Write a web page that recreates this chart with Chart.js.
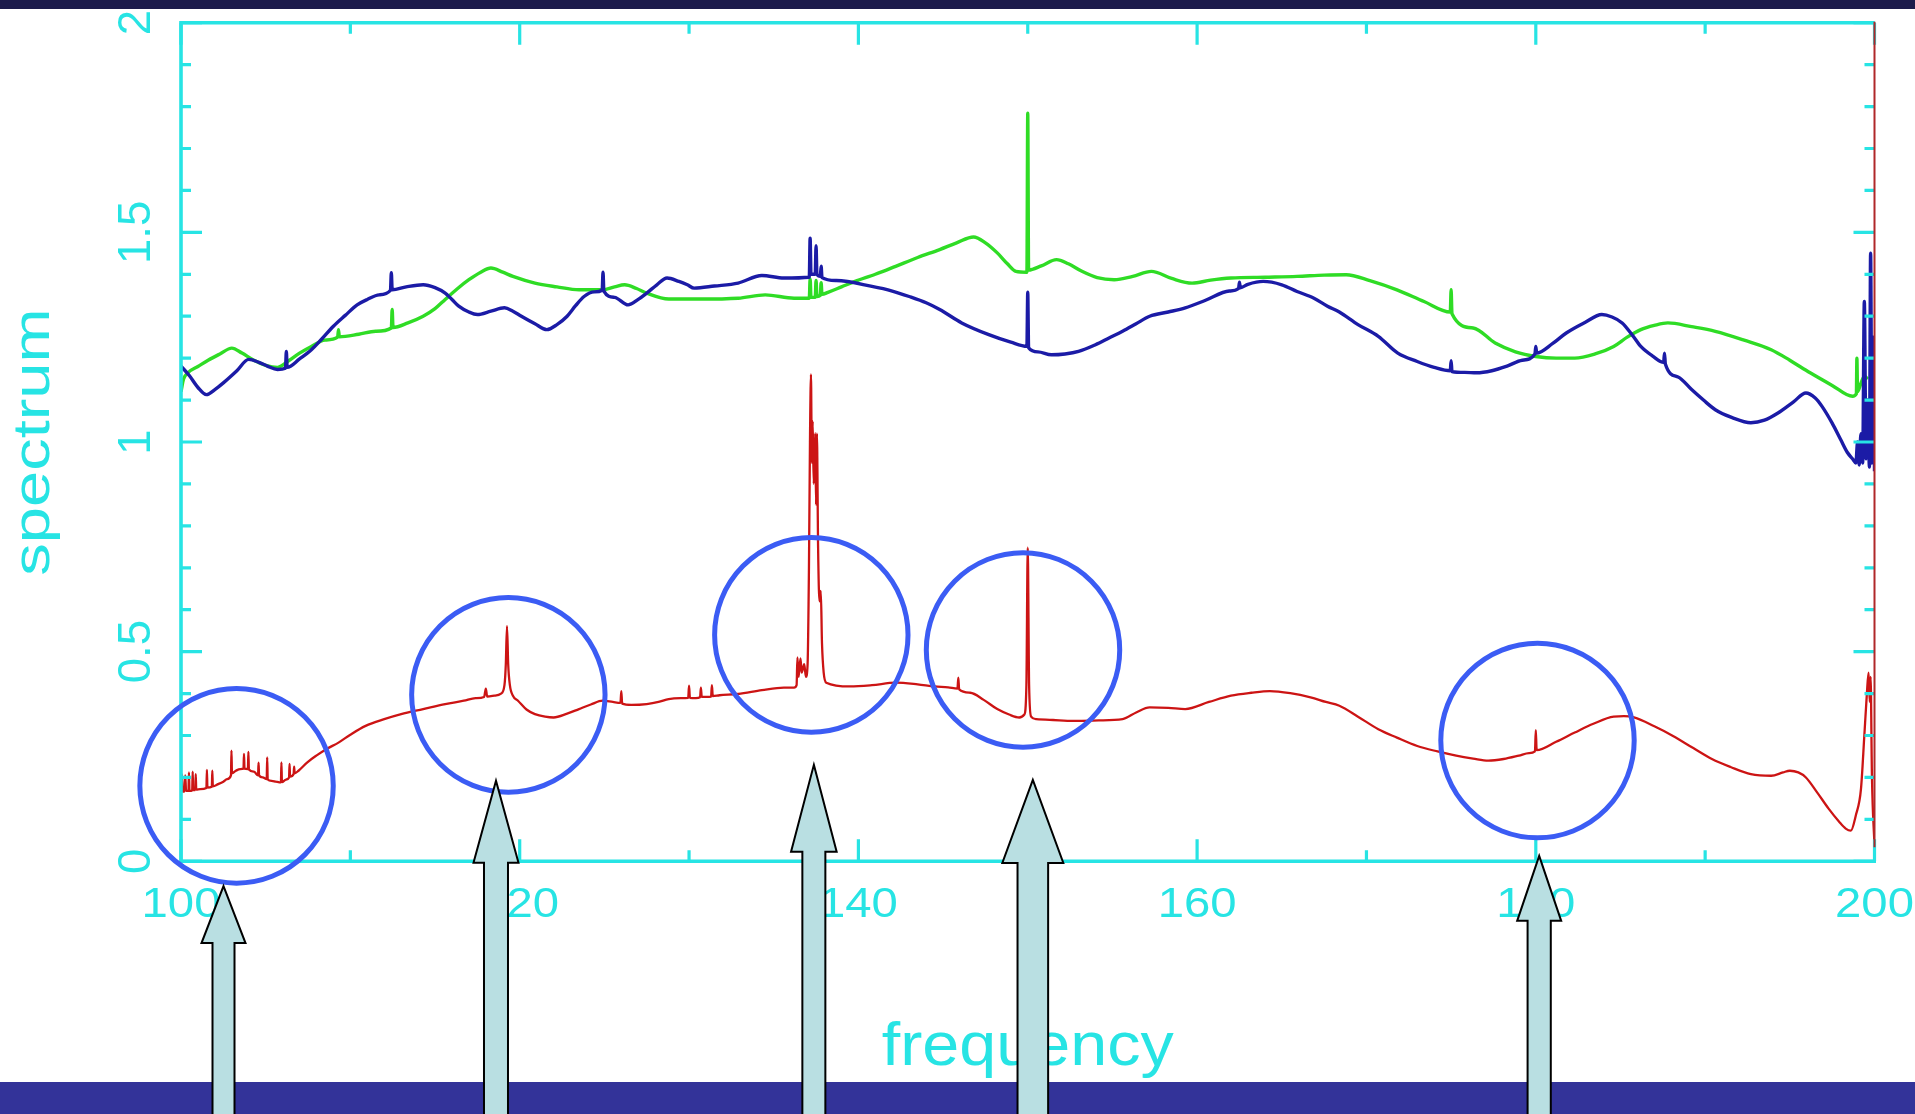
<!DOCTYPE html>
<html>
<head>
<meta charset="utf-8">
<title>spectrum vs frequency</title>
<script src="https://cdn.jsdelivr.net/npm/chart.js@4.4.1/dist/chart.umd.min.js"></script>
<style>
  html, body { margin: 0; padding: 0; background: #ffffff; overflow: hidden; }
  #wrap { position: absolute; left: 0; top: 0; width: 1915px; height: 1114px; }
</style>
</head>
<body>
<div id="wrap"><canvas id="spec" width="1915" height="1114"></canvas></div>
<script>
// ---- axis ticks ----
const xMajorTicks = [100, 120, 140, 160, 180, 200];
const xTickLabels = ['100', '120', '140', '160', '180', '200'];
const xMinorTicks = [110, 130, 150, 170, 190];
const yMajorTicks = [0, 0.5, 1, 1.5, 2];
const yTickLabels = ['0', '0.5', '1', '1.5', '2'];
const yMinorTicks = [0.1, 0.2, 0.3, 0.4, 0.6, 0.7, 0.8, 0.9, 1.1, 1.2, 1.3, 1.4, 1.6, 1.7, 1.8, 1.9];

// ---- spectra: [frequency, spectrum] ----
const greenSpectrum = [
  [100.0,1.12],[100.15,1.15],[100.4,1.165],[101.0,1.18],[101.6,1.195],[102.3,1.21],[103.0,1.224],[103.6,1.212],
  [104.3,1.195],[105.0,1.183],[105.7,1.178],[106.4,1.195],[107.0,1.212],[107.7,1.228],[108.5,1.243],[109.25,1.25],
  [109.3,1.268],[109.35,1.251],[110.5,1.257],[111.5,1.264],[112.42,1.272],[112.47,1.316],[112.52,1.273],[113.4,1.284],
  [114.3,1.30],[115.0,1.318],[115.6,1.34],[116.3,1.365],[117.0,1.387],[117.7,1.405],[118.3,1.415],[119.0,1.405],
  [119.6,1.395],[120.9,1.379],[122.2,1.37],[123.5,1.363],[124.9,1.363],[125.6,1.37],[126.2,1.375],[126.9,1.366],
  [127.5,1.355],[128.8,1.341],[130.6,1.341],[132.9,1.343],[134.5,1.351],[136.2,1.343],[137.1,1.343],[137.15,1.389],
  [137.2,1.345],[137.45,1.345],[137.5,1.385],[137.55,1.347],[137.75,1.35],[137.8,1.38],[137.85,1.352],[138.2,1.357],
  [139.0,1.37],[139.8,1.383],[141.0,1.40],[142.2,1.419],[143.5,1.44],[144.8,1.459],[145.8,1.475],[146.8,1.489],
  [147.5,1.475],[148.2,1.451],[148.8,1.425],[149.3,1.407],[149.95,1.405],[150.0,1.784],[150.05,1.41],[150.8,1.42],
  [151.7,1.435],[152.4,1.425],[153.2,1.407],[154.1,1.392],[155.1,1.387],[156.2,1.395],[157.3,1.407],[158.5,1.39],
  [159.7,1.379],[160.8,1.386],[162.0,1.391],[164.0,1.393],[165.9,1.395],[167.5,1.398],[168.8,1.399],[170.2,1.385],
  [171.8,1.363],[173.4,1.335],[174.95,1.31],[175.0,1.363],[175.05,1.306],[176.3,1.272],[177.6,1.236],[178.8,1.215],
  [180.0,1.204],[181.2,1.2],[182.3,1.200],[183.5,1.21],[184.6,1.228],[185.4,1.25],[186.2,1.268],[187.0,1.278],
  [187.8,1.284],[189.2,1.275],[190.6,1.264],[192.3,1.243],[193.9,1.220],[195.0,1.195],[196.2,1.165],[197.5,1.135],
  [198.7,1.109],[198.93,1.115],[198.96,1.20],[199.0,1.12],[199.2,1.14],[199.4,1.157],[199.6,1.15]
];

const blueSpectrum = [
  [100.0,1.181],[100.5,1.158],[101.0,1.13],[101.5,1.113],[102.0,1.125],[102.5,1.141],[103.3,1.17],[104.0,1.197],
  [104.6,1.19],[105.1,1.181],[105.7,1.173],[106.17,1.176],[106.22,1.216],[106.27,1.178],[107.0,1.198],[107.7,1.22],
  [108.3,1.245],[109.0,1.276],[109.7,1.302],[110.4,1.327],[111.0,1.34],[111.7,1.351],[112.37,1.362],[112.42,1.404],
  [112.47,1.363],[113.3,1.37],[114.3,1.375],[115.0,1.368],[115.6,1.355],[116.0,1.34],[116.4,1.324],[117.0,1.31],
  [117.5,1.304],[118.3,1.312],[119.1,1.320],[119.6,1.312],[120.1,1.300],[120.9,1.282],[121.6,1.268],[122.2,1.28],
  [122.8,1.30],[123.3,1.325],[123.8,1.347],[124.4,1.358],[124.87,1.362],[124.92,1.405],[124.97,1.36],[125.6,1.345],
  [126.4,1.327],[127.0,1.34],[127.5,1.355],[128.1,1.375],[128.7,1.391],[129.4,1.383],[129.9,1.375],[130.3,1.367],
  [131.5,1.372],[132.9,1.379],[134.3,1.397],[135.6,1.391],[137.1,1.393],[137.15,1.486],[137.2,1.40],[137.45,1.40],
  [137.5,1.468],[137.55,1.40],[137.75,1.395],[137.8,1.419],[137.85,1.392],[138.7,1.385],[140.8,1.371],[142.0,1.36],
  [143.0,1.347],[144.0,1.332],[144.8,1.316],[146.1,1.284],[147.7,1.256],[149.0,1.238],[149.95,1.228],[150.0,1.357],
  [150.05,1.225],[150.6,1.215],[151.4,1.208],[152.2,1.21],[153.0,1.216],[154.0,1.232],[154.8,1.248],[155.6,1.264],
  [156.4,1.282],[157.2,1.30],[158.3,1.31],[159.3,1.320],[160.5,1.338],[161.9,1.36],[162.45,1.366],[162.5,1.381],
  [162.55,1.368],[163.0,1.376],[163.9,1.383],[165.0,1.375],[165.9,1.359],[166.9,1.343],[167.7,1.324],[168.4,1.31],
  [169.5,1.28],[170.7,1.252],[171.85,1.212],[173.0,1.192],[174.0,1.178],[174.95,1.17],[175.0,1.194],[175.05,1.168],
  [175.8,1.166],[176.5,1.165],[177.4,1.17],[178.3,1.181],[179.2,1.195],[179.95,1.21],[180.0,1.228],[180.05,1.212],
  [181.0,1.235],[181.8,1.260],[182.9,1.285],[183.9,1.304],[184.5,1.298],[185.1,1.284],[185.7,1.255],[186.2,1.228],
  [186.9,1.205],[187.55,1.19],[187.6,1.212],[187.65,1.186],[188.4,1.155],[189.2,1.125],[189.9,1.1],[190.6,1.077],
  [191.6,1.058],[192.7,1.046],[193.5,1.052],[194.3,1.069],[195.2,1.095],[195.95,1.117],[196.5,1.105],[196.9,1.085],
  [197.5,1.045],[198.0,1.006],[198.4,0.975],[198.7,0.96],[198.9,0.95],[199.0,1.0],[199.1,0.945],[199.2,1.02],
  [199.3,0.95],[199.4,1.335],[199.5,0.96],[199.6,1.10],[199.7,0.94],[199.77,1.45],[199.85,0.95],[199.95,1.25],
  [200.0,0.93]
];

const redSpectrum = [
  [100.0,0.164],[100.05,0.208],[100.1,0.166],[100.2,0.167],[100.25,0.205],[100.3,0.168],[100.44,0.168],[100.47,0.212],
  [100.5,0.168],[100.66,0.169],[100.69,0.214],[100.72,0.17],[100.84,0.17],[100.87,0.208],[100.9,0.171],[101.13,0.172],
  [101.5,0.175],[101.53,0.218],[101.56,0.176],[101.82,0.178],[101.85,0.216],[101.88,0.179],[102.19,0.184],[102.5,0.19],
  [102.72,0.196],[102.95,0.205],[102.98,0.264],[103.01,0.21],[103.24,0.216],[103.5,0.22],[103.69,0.221],[103.72,0.256],
  [103.75,0.221],[103.95,0.22],[103.98,0.261],[104.01,0.219],[104.3,0.214],[104.55,0.205],[104.58,0.235],[104.61,0.205],
  [104.83,0.200],[105.06,0.196],[105.09,0.248],[105.12,0.195],[105.35,0.192],[105.6,0.19],[105.9,0.188],[105.93,0.236],
  [105.96,0.189],[106.2,0.195],[106.38,0.2],[106.41,0.232],[106.44,0.202],[106.65,0.208],[106.68,0.226],[106.71,0.21],
  [106.94,0.216],[107.46,0.236],[107.99,0.252],[108.6,0.268],[109.3,0.283],[110.0,0.302],[110.9,0.323],[112.0,0.339],
  [113.0,0.351],[114.3,0.363],[115.6,0.375],[116.7,0.383],[117.4,0.389],[117.9,0.392],[118.0,0.412],[118.08,0.393],
  [118.5,0.395],[118.9,0.4],[119.1,0.42],[119.18,0.47],[119.25,0.561],[119.32,0.47],[119.42,0.42],[119.6,0.395],
  [119.9,0.383],[120.4,0.362],[120.9,0.351],[121.5,0.345],[122.0,0.343],[122.8,0.352],[123.5,0.363],[124.2,0.374],
  [124.9,0.383],[125.5,0.38],[125.95,0.378],[126.0,0.406],[126.05,0.376],[126.6,0.373],[127.5,0.375],[128.2,0.38],
  [128.8,0.387],[129.5,0.389],[129.95,0.39],[130.0,0.419],[130.05,0.39],[130.4,0.389],[130.65,0.391],[130.7,0.414],
  [130.75,0.392],[131.0,0.392],[131.3,0.393],[131.35,0.42],[131.4,0.394],[131.8,0.396],[132.9,0.399],[134.3,0.408],
  [135.6,0.414],[136.2,0.414],[136.35,0.42],[136.4,0.486],[136.47,0.44],[136.58,0.484],[136.65,0.45],[136.8,0.47],
  [136.9,0.44],[137.0,0.47],[137.08,0.7],[137.14,1.0],[137.2,1.161],[137.25,0.95],[137.3,1.05],[137.36,0.9],
  [137.45,1.021],[137.5,0.85],[137.55,1.02],[137.62,0.75],[137.7,0.62],[137.78,0.645],[137.85,0.52],[137.95,0.45],
  [138.1,0.426],[139.5,0.417],[140.8,0.42],[142.2,0.426],[143.5,0.422],[144.5,0.417],[145.3,0.415],[145.85,0.412],
  [145.9,0.438],[145.95,0.41],[146.6,0.402],[147.4,0.385],[148.2,0.363],[148.9,0.35],[149.5,0.343],[149.8,0.35],
  [149.92,0.42],[150.0,0.748],[150.08,0.42],[150.2,0.345],[150.5,0.339],[151.5,0.337],[152.7,0.335],[154.2,0.336],
  [155.6,0.339],[156.4,0.355],[157.2,0.367],[158.3,0.366],[159.3,0.363],[160.7,0.38],[162.0,0.395],[163.2,0.402],
  [164.3,0.406],[165.5,0.401],[166.7,0.391],[167.6,0.38],[168.4,0.371],[169.5,0.345],[170.7,0.315],[171.8,0.295],
  [173.0,0.275],[174.2,0.262],[175.3,0.252],[176.3,0.245],[177.2,0.240],[178.1,0.244],[179.0,0.252],[179.6,0.258],
  [179.95,0.262],[180.0,0.313],[180.05,0.265],[181.2,0.285],[182.3,0.307],[183.4,0.328],[184.6,0.345],[185.2,0.346],
  [185.8,0.343],[187.0,0.322],[188.1,0.299],[189.3,0.27],[190.4,0.244],[191.5,0.225],[192.7,0.208],[193.9,0.204],
  [194.6,0.212],[195.0,0.216],[195.5,0.212],[195.95,0.200],[196.6,0.165],[197.3,0.125],[197.9,0.095],[198.3,0.078],
  [198.6,0.073],[198.9,0.11],[199.2,0.172],[199.4,0.3],[199.55,0.4],[199.65,0.45],[199.72,0.38],[199.77,0.44],
  [199.85,0.2],[200.0,0.037]
];

// ---- highlighted features: [frequency, spectrum] ----
const circledFeatures = [[103.28, 0.180], [119.33, 0.397], [137.22, 0.540], [149.72, 0.504], [180.10, 0.288]];
const arrowTips = [[102.51, -0.059], [118.6, 0.192], [137.37, 0.230], [150.3, 0.194], [180.2, 0.013]];

// ---- styles ----
const CYAN = '#27e4e4';
const FONT = '"Liberation Sans", Arial, Helvetica, sans-serif';
const arrowShapes = [
  { head: 57, headHalf: 22, shaftHalf: 11 },
  { head: 82, headHalf: 22.5, shaftHalf: 12 },
  { head: 87, headHalf: 22.8, shaftHalf: 11.5 },
  { head: 83, headHalf: 30.5, shaftHalf: 15.3 },
  { head: 65, headHalf: 22, shaftHalf: 11.6 }
];

const toPoints = arr => arr.map(([x, y]) => ({ x, y }));

function drawText(ctx, text, x, y, size, stretch, angle) {
  ctx.save();
  ctx.translate(x, y);
  if (angle) ctx.rotate(angle);
  ctx.scale(stretch, 1);
  ctx.font = size + 'px ' + FONT;
  ctx.textAlign = 'center';
  ctx.textBaseline = 'alphabetic';
  ctx.fillText(text, 0, 0);
  ctx.restore();
}

const slideBackground = {
  id: 'slideBackground',
  beforeDraw(chart) {
    const { ctx, width, height } = chart;
    ctx.save();
    ctx.fillStyle = '#ffffff';
    ctx.fillRect(0, 0, width, height);
    ctx.fillStyle = '#1c1b4b';
    ctx.fillRect(0, 0, width, 9);
    ctx.fillStyle = '#333399';
    ctx.fillRect(0, 1082, width, height - 1082);
    ctx.restore();
  }
};

const plotFrame = {
  id: 'plotFrame',
  afterDatasetsDraw(chart) {
    const { ctx, chartArea: a, scales: { x, y } } = chart;
    ctx.save();
    ctx.strokeStyle = CYAN;
    ctx.lineWidth = 3.6;
    ctx.lineCap = 'butt';
    ctx.beginPath();
    ctx.moveTo(a.right, a.top); ctx.lineTo(a.left, a.top);
    ctx.lineTo(a.left, a.bottom); ctx.lineTo(a.right + 1.5, a.bottom);
    ctx.stroke();

    // inward ticks on all four sides
    ctx.lineWidth = 3.2;
    ctx.beginPath();
    const xt = (v, len) => {
      const p = x.getPixelForValue(v);
      ctx.moveTo(p, a.top); ctx.lineTo(p, a.top + len);
      ctx.moveTo(p, a.bottom); ctx.lineTo(p, a.bottom - len);
    };
    const yt = (v, len) => {
      const p = y.getPixelForValue(v);
      ctx.moveTo(a.left, p); ctx.lineTo(a.left + len, p);
      ctx.moveTo(a.right, p); ctx.lineTo(a.right - len, p);
    };
    xMajorTicks.forEach(v => xt(v, 22));
    xMinorTicks.forEach(v => xt(v, 11));
    yMajorTicks.forEach(v => yt(v, 21));
    yMinorTicks.forEach(v => yt(v, 10));
    ctx.stroke();

    // right edge
    ctx.strokeStyle = '#b0282a';
    ctx.lineWidth = 2;
    ctx.beginPath();
    ctx.moveTo(a.right, a.top - 1); ctx.lineTo(a.right, a.bottom - 14);
    ctx.stroke();

    // tick labels and axis titles
    ctx.fillStyle = CYAN;
    xTickLabels.forEach((t, i) => drawText(ctx, t, x.getPixelForValue(xMajorTicks[i]), 917, 43, 1.1, 0));
    yTickLabels.forEach((t, i) => drawText(ctx, t, 150, y.getPixelForValue(yMajorTicks[i]), 45.5, 1, -Math.PI / 2));
    drawText(ctx, 'frequency', (a.left + a.right) / 2, 1065, 61, 1.09, 0);
    drawText(ctx, 'spectrum', 49, (a.top + a.bottom) / 2, 52, 1.25, -Math.PI / 2);
    ctx.restore();
  },
  afterDraw(chart) {
    const { ctx, height, scales: { x, y } } = chart;
    ctx.save();
    // circles around the features
    ctx.strokeStyle = '#3b5cf4';
    ctx.lineWidth = 5;
    circledFeatures.forEach(([f, v]) => {
      ctx.beginPath();
      ctx.ellipse(x.getPixelForValue(f), y.getPixelForValue(v), 96.7, 97.3, 0, 0, Math.PI * 2);
      ctx.stroke();
    });
    // block arrows pointing up at the features
    arrowTips.forEach(([f, v], i) => {
      const s = arrowShapes[i];
      const cx = x.getPixelForValue(f);
      const ty = y.getPixelForValue(v);
      const by = ty + s.head;
      const end = height + 6;
      ctx.beginPath();
      ctx.moveTo(cx, ty);
      ctx.lineTo(cx + s.headHalf, by);
      ctx.lineTo(cx + s.shaftHalf, by);
      ctx.lineTo(cx + s.shaftHalf, end);
      ctx.lineTo(cx - s.shaftHalf, end);
      ctx.lineTo(cx - s.shaftHalf, by);
      ctx.lineTo(cx - s.headHalf, by);
      ctx.closePath();
      ctx.fillStyle = '#b9dfe2';
      ctx.fill();
      ctx.strokeStyle = '#000000';
      ctx.lineWidth = 2;
      ctx.lineJoin = 'miter';
      ctx.stroke();
    });
    ctx.restore();
  }
};

const lineStyle = (color, width) => ({
  borderColor: color,
  borderWidth: width,
  pointRadius: 0,
  cubicInterpolationMode: 'monotone',
  borderJoinStyle: 'round',
  fill: false
});

new Chart(document.getElementById('spec'), {
  type: 'line',
  data: {
    datasets: [
      Object.assign({ label: 'blue', data: toPoints(blueSpectrum) }, lineStyle('#1b1ba6', 3.4)),
      Object.assign({ label: 'green', data: toPoints(greenSpectrum) }, lineStyle('#2fdc25', 3.4)),
      Object.assign({ label: 'red', data: toPoints(redSpectrum) }, lineStyle('#cc1414', 2.3))
    ]
  },
  options: {
    responsive: false,
    animation: false,
    devicePixelRatio: 1,
    events: [],
    layout: { padding: { left: 181, right: 40.5, top: 22.7, bottom: 252.7 } },
    scales: {
      x: { type: 'linear', min: 100, max: 200, display: false },
      y: { type: 'linear', min: 0, max: 2, display: false }
    },
    plugins: { legend: { display: false }, tooltip: { enabled: false } }
  },
  plugins: [slideBackground, plotFrame]
});
</script>
</body>
</html>
